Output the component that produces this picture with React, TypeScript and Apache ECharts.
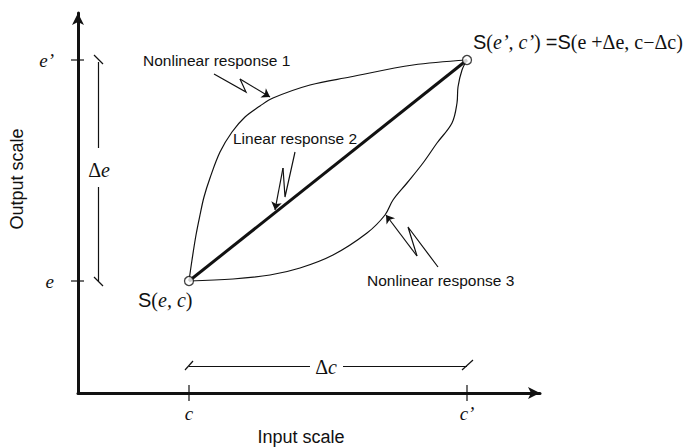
import React, { useEffect, useRef } from "react";
import * as echarts from "echarts";

// Coordinates are in diagram units (origin at the axes' corner).
const xTicks = [111, 389];
const xTickLabels = ["c", "c\u2019"];
const yTicks = [112, 333];
const yTickLabels = ["e", "e\u2019"];

const startPoint = [111, 112];
const endPoint = [389, 333];

const nonlinear1 = [
  [111, 112], [114, 133], [118, 158], [122, 178], [126, 196], [132, 215],
  [142, 241], [154, 261], [167, 276], [182, 287], [195, 295], [232, 308],
  [272, 316], [335, 328], [389, 333],
];
const linear2 = [startPoint, endPoint];
const nonlinear3 = [
  [111, 112], [155, 114], [192, 118], [222, 125], [255, 138], [289, 160],
  [307, 178], [315, 193], [329, 210], [345, 230], [359, 250], [374, 270],
  [379, 290], [380, 306], [384, 323], [389, 333],
];

// Leaders: zig-zag part and the final arrowed segment
const leader1 = [[136, 319], [168, 301], [162, 314], [192, 296]];
const leader2 = [[217, 241], [207, 196], [205, 225], [197, 183]];
const leader3 = [[360, 126], [330, 166], [339, 137], [308, 178]];

// Delta brackets
const deltaE = { x: 20, from: 112, to: 331, gapLow: 206, gapHigh: 245 };
const deltaC = { y: 27, from: 111, to: 389, gapLow: 232, gapHigh: 265 };

const SANS = "'Liberation Sans', Arial, sans-serif";
const SERIF = "'Liberation Serif', 'Times New Roman', serif";

export default function App() {
  const ref = useRef<HTMLDivElement>(null);
  useEffect(() => {
    if (!ref.current) return;
    const chart = echarts.init(ref.current, undefined, { renderer: "svg" });
    const black = "#111";
    const zig = (pts: number[][]) => pts.slice(0, 3);
    const last = (pts: number[][]) => pts.slice(2, 4);

    const bracketSegs = [
      [[deltaE.x, deltaE.from], [deltaE.x, deltaE.gapLow]],
      [[deltaE.x, deltaE.gapHigh], [deltaE.x, deltaE.to]],
      [[deltaE.x - 4, deltaE.to + 7], [deltaE.x + 5, deltaE.to - 2]],
      [[deltaE.x - 4, deltaE.from + 4], [deltaE.x + 5, deltaE.from - 5]],
      [[deltaC.from, deltaC.y], [deltaC.gapLow, deltaC.y]],
      [[deltaC.gapHigh, deltaC.y], [deltaC.to, deltaC.y]],
      [[deltaC.from - 4, deltaC.y - 4], [deltaC.from + 4, deltaC.y + 5]],
      [[deltaC.to - 5, deltaC.y - 4], [deltaC.to + 6, deltaC.y + 6]],
    ];

    const tickData = [
      ...xTicks.map((v) => [v, 0, 0]),
      ...yTicks.map((v) => [0, v, 1]),
    ];

    const option: any = {
      animation: false,
      backgroundColor: "#fff",
      grid: { left: 78, top: 13, width: 462, height: 380, outerBoundsMode: "none", containLabel: false },
      xAxis: {
        type: "value",
        min: 0,
        max: 462,
        name: "Input scale",
        nameLocation: "middle",
        nameGap: 34,
        nameTextStyle: { fontFamily: SANS, fontSize: 18, color: black, padding: [0, 16, 0, 0] },
        axisLine: {
          show: true,
          symbol: ["none", "arrow"],
          symbolSize: [9, 12],
          lineStyle: { color: black, width: 3 },
        },
        axisTick: { show: false },
        splitLine: { show: false },
        axisLabel: {
          show: true,
          customValues: xTicks,
          margin: 11,
          formatter: (v: number) => xTickLabels[xTicks.indexOf(v)] ?? "",
          fontFamily: SERIF,
          fontStyle: "italic",
          fontSize: 19,
          color: black,
        },
      },
      yAxis: {
        type: "value",
        min: 0,
        max: 380,
        name: "Output scale",
        nameLocation: "middle",
        nameGap: 52,
        nameRotate: 90,
        nameTextStyle: { fontFamily: SANS, fontSize: 18, color: black, padding: [0, 0, 0, 48] },
        axisLine: {
          show: true,
          symbol: ["none", "arrow"],
          symbolSize: [9, 12],
          lineStyle: { color: black, width: 3 },
        },
        axisTick: { show: false },
        splitLine: { show: false },
        axisLabel: {
          show: true,
          customValues: yTicks,
          margin: 24,
          formatter: (v: number) => yTickLabels[yTicks.indexOf(v)] ?? "",
          fontFamily: SERIF,
          fontStyle: "italic",
          fontSize: 19,
          color: black,
        },
      },
      series: [
        {
          type: "custom",
          name: "ticks",
          clip: false,
          silent: true,
          renderItem: (params: any, api: any) => {
            const p = api.coord([api.value(0), api.value(1)]);
            const dir = api.value(2);
            const shape =
              dir === 0
                ? { x1: p[0], y1: p[1] - 8, x2: p[0], y2: p[1] + 8 }
                : { x1: p[0] - 7, y1: p[1], x2: p[0] + 6, y2: p[1] };
            return { type: "line", shape, style: { stroke: black, lineWidth: 1.2 } };
          },
          data: tickData,
          z: 5,
        },
        {
          type: "line",
          name: "Nonlinear response 1",
          data: nonlinear1,
          smooth: 0.35,
          showSymbol: false,
          lineStyle: { color: black, width: 1.2 },
        },
        {
          type: "line",
          name: "Linear response 2",
          data: linear2,
          showSymbol: false,
          lineStyle: { color: black, width: 3 },
        },
        {
          type: "line",
          name: "Nonlinear response 3",
          data: nonlinear3,
          smooth: 0.35,
          showSymbol: false,
          lineStyle: { color: black, width: 1.2 },
        },
        {
          type: "lines",
          coordinateSystem: "cartesian2d",
          polyline: true,
          silent: true,
          lineStyle: { color: black, width: 1.2, opacity: 1 },
          data: [leader1, leader2, leader3].map((l) => ({ coords: zig(l) })),
        },
        {
          type: "lines",
          coordinateSystem: "cartesian2d",
          silent: true,
          symbol: ["none", "arrow"],
          symbolSize: 8,
          lineStyle: { color: black, width: 1.2, opacity: 1 },
          data: [leader1, leader2, leader3].map((l) => ({ coords: last(l) })),
        },
        {
          type: "lines",
          coordinateSystem: "cartesian2d",
          silent: true,
          lineStyle: { color: black, width: 1.2, opacity: 1 },
          data: bracketSegs.map((s) => ({ coords: s })),
        },
        {
          type: "scatter",
          data: [startPoint, endPoint],
          symbol: "circle",
          symbolSize: 9,
          itemStyle: { color: "#fff", borderColor: black, borderWidth: 1.3 },
          z: 10,
        },
      ],
      graphic: [
        {
          type: "text",
          x: 143,
          y: 60,
          style: { text: "Nonlinear response 1", font: `15.5px ${SANS}`, fill: black, textVerticalAlign: "middle" },
        },
        {
          type: "text",
          x: 233,
          y: 138,
          style: { text: "Linear response 2", font: `15.5px ${SANS}`, fill: black, textVerticalAlign: "middle" },
        },
        {
          type: "text",
          x: 367,
          y: 280,
          style: { text: "Nonlinear response 3", font: `15.5px ${SANS}`, fill: black, textVerticalAlign: "middle" },
        },
        {
          type: "text",
          x: 99,
          y: 170,
          style: {
            text: "{r|\u0394}{i|e}",
            textAlign: "center",
            textVerticalAlign: "middle",
            rich: {
              r: { fontFamily: SERIF, fontSize: 20, fill: black },
              i: { fontFamily: SERIF, fontSize: 20, fontStyle: "italic", fill: black },
            },
          },
        },
        {
          type: "text",
          x: 326,
          y: 367,
          style: {
            text: "{r|\u0394}{i|c}",
            textAlign: "center",
            textVerticalAlign: "middle",
            rich: {
              r: { fontFamily: SERIF, fontSize: 20, fill: black },
              i: { fontFamily: SERIF, fontSize: 20, fontStyle: "italic", fill: black },
            },
          },
        },
        {
          type: "text",
          x: 138,
          y: 300,
          style: {
            text: "{s|S}{r|(}{i|e, c}{r|)}",
            textVerticalAlign: "middle",
            rich: {
              s: { fontFamily: SANS, fontSize: 20, fill: black },
              r: { fontFamily: SERIF, fontSize: 20, fill: black },
              i: { fontFamily: SERIF, fontSize: 20, fontStyle: "italic", fill: black },
            },
          },
        },
        {
          type: "text",
          x: 473,
          y: 42,
          style: {
            text: "{s|S}{r|(}{i|e\u2019, c\u2019}{r|) }{s|=S}{r|(e +\u0394e, c\u2212\u0394c)}",
            textVerticalAlign: "middle",
            rich: {
              s: { fontFamily: SANS, fontSize: 20, fill: black },
              r: { fontFamily: SERIF, fontSize: 20, fill: black },
              i: { fontFamily: SERIF, fontSize: 20, fontStyle: "italic", fill: black },
            },
          },
        },
      ],
    };
    chart.setOption(option);
    return () => chart.dispose();
  }, []);
  return <div ref={ref} style={{ width: 686, height: 448, position: "absolute", left: 0, top: 0 }} />;
}
